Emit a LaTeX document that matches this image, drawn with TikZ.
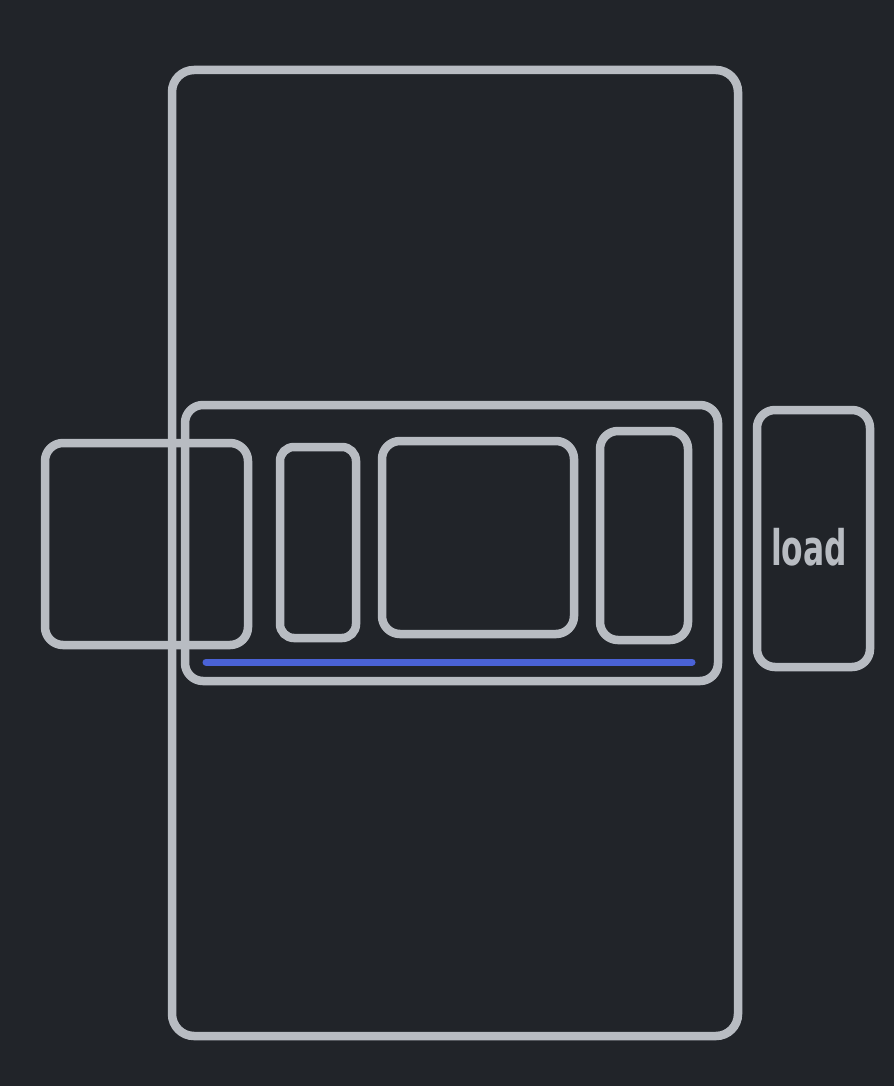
\documentclass[tikz,border=0pt]{standalone}
\usepackage{fontspec}
\setmainfont{DejaVu Sans}
\definecolor{bgc}{HTML}{212429}
\definecolor{strk}{HTML}{B8BCC2}
\definecolor{bluel}{HTML}{4A62D6}
\begin{document}
\begin{tikzpicture}[x=1pt,y=-1pt,
  box/.style={draw=strk,line width=8.5pt,rounded corners=18pt},
  lbl/.style={text=strk,font=\bfseries\fontsize{49}{52}\selectfont,xscale=0.64,inner sep=0pt}]
\fill[bgc] (0,0) rectangle (894,1086);
\useasboundingbox (0,0) rectangle (894,1086);
% outer container
\draw[box,rounded corners=22pt] (172,70) rectangle (738,1036);
% group
\draw[box] (185,405) rectangle (718,681);
% left overlapping box
\draw[box] (45,443) rectangle (248,645);
% inner boxes
\draw[box,rounded corners=14pt] (280,447) rectangle (356,638);
\draw[box] (382,441) rectangle (574,634);
\draw[box] (600,431) rectangle (688,640);
% load box
\draw[box] (757,410) rectangle (870,667);
\node[lbl] (load) at (809,547) {load};
% blue line
\coordinate (bl1) at (206,662);
\coordinate (bl2) at (692,662);
\draw[bluel,line width=7pt,line cap=round] (bl1) -- (bl2);
\end{tikzpicture}
\end{document}
